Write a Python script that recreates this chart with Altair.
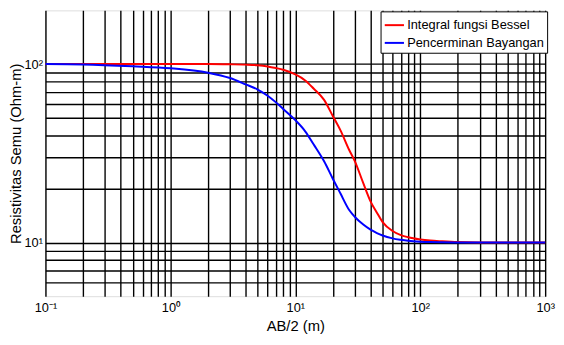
import altair as alt
import pandas as pd

# AB/2 (m)
ab2 = [0.1, 0.2, 0.5, 1, 2, 3, 4, 5, 6, 7, 8, 10, 12, 14, 17, 20, 23, 27, 30,
       35, 40, 45, 50, 60, 70, 80, 100, 120, 150, 200, 300, 500, 1000]
# Integral fungsi Bessel
bessel = [100, 100, 100, 100, 100, 99.7, 99.3, 98.5, 97, 95, 93, 87.5, 81, 73,
          63, 51, 42.5, 33, 28.5, 21.5, 17, 14.7, 13.0, 11.6, 11.0, 10.7, 10.4,
          10.25, 10.15, 10.05, 10.0, 10.0, 10.0]
# Pencerminan Bayangan
bayangan = [100, 99.5, 97.2, 94.8, 89.5, 83.5, 77, 72, 66.5, 61, 56, 48.5, 42,
            35.5, 28.5, 22.7, 18.8, 15.2, 13.9, 12.6, 11.8, 11.3, 10.95, 10.55,
            10.35, 10.22, 10.1, 10.05, 10.02, 10.0, 10.0, 10.0, 10.0]

series_names = ["Integral fungsi Bessel", "Pencerminan Bayangan"]
series_colors = ["#ff0000", "#0000ff"]

x_grid = [0.1, 0.2, 0.3, 0.4, 0.5, 0.6, 0.7, 0.8, 0.9,
          1, 2, 3, 4, 5, 6, 7, 8, 9,
          10, 20, 30, 40, 50, 60, 70, 80, 90,
          100, 200, 300, 400, 500, 600, 700, 800, 900, 1000]
y_grid = [6, 7, 8, 9, 10, 20, 30, 40, 50, 60, 70, 80, 90, 100]

x_labels = [(0.1, "10⁻¹"), (1, "10⁰"), (10, "10¹"), (100, "10²"), (1000, "10³")]
y_labels = [(10, "10¹"), (100, "10²")]


def label_expr(pairs):
    return " : ".join(f"datum.value == {v} ? '{s}'" for v, s in pairs) + " : ''"


rows = []
for name, vals in zip(series_names, [bessel, bayangan]):
    for xv, yv in zip(ab2, vals):
        rows.append({"ab2": xv, "rho": yv, "series": name})
df = pd.DataFrame(rows)

FONT = "Liberation Sans"
W, H = 507, 290

chart = alt.Chart(df).mark_line(strokeWidth=2, interpolate="monotone").encode(
    x=alt.X("ab2:Q",
            scale=alt.Scale(type="log", domain=[0.1, 1000], nice=False),
            axis=alt.Axis(values=x_grid, labelExpr=label_expr(x_labels),
                          title="AB/2 (m)", grid=True, gridColor="black",
                          gridWidth=1.4, gridOpacity=1, ticks=False, domain=False,
                          labelFont=FONT, labelFontSize=13, labelColor="black",
                          labelPadding=6, labelOverlap=False, labelFlush=False,
                          titleFont=FONT, titleFontSize=15, titleFontWeight="normal",
                          titleColor="black", titlePadding=4)),
    y=alt.Y("rho:Q",
            scale=alt.Scale(type="log", domain=[5, 200], nice=False),
            axis=alt.Axis(values=y_grid, labelExpr=label_expr(y_labels),
                          title="Resistivitas Semu (Ohm-m)", grid=True,
                          gridColor="black", gridWidth=1.4, gridOpacity=1,
                          ticks=False, domain=False,
                          labelFont=FONT, labelFontSize=13, labelColor="black",
                          labelPadding=3, labelOverlap=False, labelFlush=False,
                          titleFont=FONT, titleFontSize=15, titleFontWeight="normal",
                          titleColor="black", titleX=-30, titleY=H / 2,
                          titleAngle=270, titleAlign="center",
                          titleBaseline="middle")),
    color=alt.Color("series:N",
                    scale=alt.Scale(domain=series_names, range=series_colors),
                    legend=alt.Legend(title=None, orient="none", legendX=340,
                                      legendY=1, symbolType="stroke",
                                      symbolSize=380, symbolStrokeWidth=2,
                                      labelFont=FONT, labelFontSize=13,
                                      labelColor="black", labelLimit=300,
                                      labelOffset=2, rowPadding=0, padding=3,
                                      strokeColor="black", fillColor="white")),
).properties(
    width=W, height=H,
    autosize=alt.AutoSizeParams(type="none"),
    padding={"left": 38, "top": 0, "right": 11, "bottom": 39},
).configure_view(stroke="black", strokeWidth=1.6).configure(background="white")

chart.save("out.html", embed_options={"renderer": "svg", "actions": False})
